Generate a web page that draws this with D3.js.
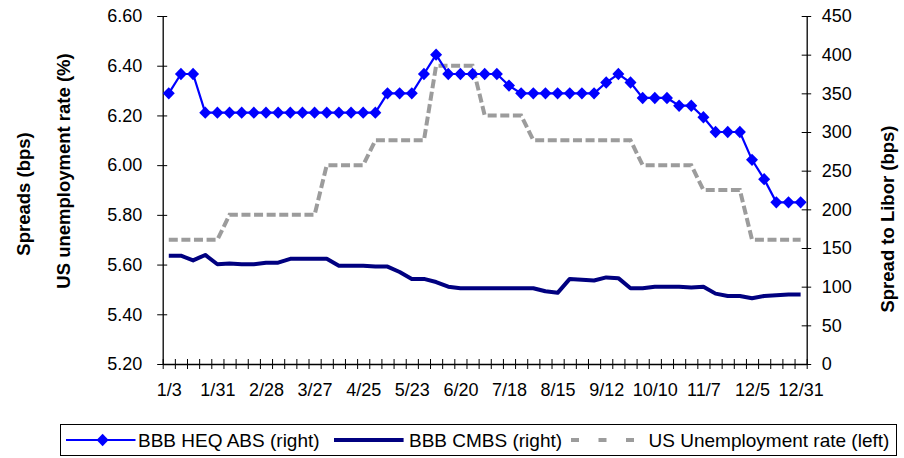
<!DOCTYPE html>
<html>
<head>
<meta charset="utf-8">
<script src="https://cdn.jsdelivr.net/npm/d3@7"></script>
<style>
  html, body { margin: 0; padding: 0; background: #fff; }
  svg { display: block; font-family: "Liberation Sans", Arial, sans-serif; }
</style>
</head>
<body>
<svg id="chart" width="904" height="458"></svg>
<script>
// ---- data ----
const dates = ["1/3","1/10","1/17","1/24","1/31","2/7","2/14","2/21","2/28","3/6","3/13","3/20","3/27",
  "4/3","4/10","4/17","4/25","5/2","5/9","5/16","5/23","5/30","6/6","6/13","6/20","6/27","7/4","7/11",
  "7/18","7/25","8/1","8/8","8/15","8/22","8/29","9/5","9/12","9/19","9/26","10/3","10/10","10/17",
  "10/24","10/31","11/7","11/14","11/21","11/28","12/5","12/12","12/19","12/26","12/31"];
const tickLabelIdx = [0,4,8,12,16,20,24,28,32,36,40,44,48,52];
const heqAbs = [350,375,375,325,325,325,325,325,325,325,325,325,325,325,325,325,325,325,350,350,350,375,400,
  375,375,375,375,375,360,350,350,350,350,350,350,350,364,375,364,344,344,344,334,334,319,300,300,300,264,239,209,209,209];
const cmbs = [140,140,134,141,129,130,129,129,131,131,136,136,136,136,127,127,127,126,126,119,110,110,106,100,98,98,
  98,98,98,98,98,94,92,110,109,108,112,111,98,98,100,100,100,99,100,91,88,88,85,88,89,90,90];
const unemployment = [5.7,5.7,5.7,5.7,5.7,5.8,5.8,5.8,5.8,5.8,5.8,5.8,5.8,6.0,6.0,6.0,6.0,6.1,6.1,6.1,6.1,6.1,
  6.4,6.4,6.4,6.4,6.2,6.2,6.2,6.2,6.1,6.1,6.1,6.1,6.1,6.1,6.1,6.1,6.1,6.0,6.0,6.0,6.0,6.0,5.9,5.9,5.9,5.9,
  5.7,5.7,5.7,5.7,5.7];
const leftTicks = [5.2,5.4,5.6,5.8,6.0,6.2,6.4,6.6];
const rightTicks = [0,50,100,150,200,250,300,350,400,450];
const seriesNames = ["BBB HEQ ABS (right)","BBB CMBS (right)","US Unemployment rate (left)"];

// ---- layout ----
const svg = d3.select("#chart");
const L = 162.7, R = 806.7, T = 16, B = 364;
const idx = d3.range(dates.length);
const xBand = d3.scaleLinear().domain([0, dates.length]).range([L, R]);
const xPt = d3.scalePoint().domain(idx).range([L, R]).padding(0.5);
const yL = d3.scaleLinear().domain([5.2, 6.6]).range([B, T]);
const yR = d3.scaleLinear().domain([0, 450]).range([B, T]);

const fontTick = "18px";
const ff = "Liberation Sans, Arial, sans-serif";

// left axis
const gL = svg.append("g").attr("transform", `translate(${L},0)`)
  .call(d3.axisLeft(yL).tickValues(leftTicks).tickFormat(d3.format(".2f")).tickSizeOuter(0).tickPadding(0));
gL.selectAll(".tick line").attr("x1", -5.5).attr("x2", 4.5).attr("stroke", "#000");
gL.selectAll(".tick text").attr("x", -20.5).attr("font-size", fontTick).attr("fill", "#000").attr("font-family", ff);
gL.select(".domain").attr("stroke", "#000").attr("stroke-width", 1.3);

// right axis
const gR = svg.append("g").attr("transform", `translate(${R},0)`)
  .call(d3.axisRight(yR).tickValues(rightTicks).tickSizeOuter(0).tickPadding(0));
gR.selectAll(".tick line").attr("x1", -5).attr("x2", 4.5).attr("stroke", "#000");
gR.selectAll(".tick text").attr("x", 15).attr("font-size", fontTick).attr("fill", "#000").attr("font-family", ff);
gR.select(".domain").attr("stroke", "#000").attr("stroke-width", 1.3);

// bottom axis: tick marks between categories
const gB = svg.append("g").attr("transform", `translate(0,${B})`)
  .call(d3.axisBottom(xBand).tickValues(d3.range(0, dates.length + 1)).tickFormat("").tickSizeOuter(0));
gB.selectAll(".tick line").attr("y1", -5).attr("y2", 5).attr("stroke", "#000");
gB.select(".domain").attr("stroke", "#000").attr("stroke-width", 1.3);

// bottom labels
const gBL = svg.append("g").attr("transform", `translate(0,${B})`)
  .call(d3.axisBottom(xPt).tickValues(tickLabelIdx).tickFormat(i => dates[i]).tickSize(0).tickPadding(19));
gBL.select(".domain").remove();
gBL.selectAll(".tick text").attr("font-size", fontTick).attr("fill", "#000").attr("font-family", ff);

// axis titles
svg.append("text").attr("transform", "translate(29.5,194) rotate(-90)").attr("text-anchor", "middle")
  .attr("font-weight", "bold").attr("font-size", "18.5px").text("Spreads (bps)");
svg.append("text").attr("transform", "translate(69.5,171) rotate(-90)").attr("text-anchor", "middle")
  .attr("font-weight", "bold").attr("font-size", "18.5px").text("US unemployment rate (%)");
svg.append("text").attr("transform", "translate(894,219) rotate(-90)").attr("text-anchor", "middle")
  .attr("font-weight", "bold").attr("font-size", "18.5px").text("Spread to Libor (bps)");

// series
const lineL = d3.line().x((d, i) => xPt(i)).y(d => yL(d));
const lineR = d3.line().x((d, i) => xPt(i)).y(d => yR(d));

svg.append("path").datum(unemployment).attr("d", lineL).attr("fill", "none")
  .attr("stroke", "#9c9c9c").attr("stroke-width", 4).attr("stroke-dasharray", "9,3.6");
svg.append("path").datum(cmbs).attr("d", lineR).attr("fill", "none")
  .attr("stroke", "#000080").attr("stroke-width", 4).attr("stroke-linejoin", "round");
svg.append("path").datum(heqAbs).attr("d", lineR).attr("fill", "none")
  .attr("stroke", "#0000ff").attr("stroke-width", 2.2);
const diamond = "M0,-6.2L6,0L0,6.2L-6,0Z";
svg.append("g").selectAll("path").data(heqAbs).join("path")
  .attr("d", diamond).attr("fill", "#0000ff")
  .attr("transform", (d, i) => `translate(${xPt(i)},${yR(d)})`);

// legend
const lg = svg.append("g");
lg.append("rect").attr("x", 60.5).attr("y", 424.5).attr("width", 836).attr("height", 31)
  .attr("fill", "#fff").attr("stroke", "#000").attr("stroke-width", 1);
const ly = 440;
lg.append("line").attr("x1", 66).attr("x2", 135.5).attr("y1", ly).attr("y2", ly)
  .attr("stroke", "#0000ff").attr("stroke-width", 2.2);
lg.append("path").attr("d", diamond).attr("fill", "#0000ff").attr("transform", `translate(102.6,${ly})`);
lg.append("line").attr("x1", 334).attr("x2", 403.6).attr("y1", ly).attr("y2", ly)
  .attr("stroke", "#000080").attr("stroke-width", 4);
lg.append("line").attr("x1", 571).attr("x2", 634).attr("y1", ly).attr("y2", ly)
  .attr("stroke", "#9c9c9c").attr("stroke-width", 4).attr("stroke-dasharray", "8,19.5");
const lx = [138, 409, 648.6];
lg.selectAll("text.lt").data(seriesNames).join("text").attr("class", "lt")
  .attr("x", (d, i) => lx[i]).attr("y", ly + 6.8).attr("font-size", "19px").attr("fill", "#000")
  .attr("font-family", ff).text(d => d);
</script>
</body>
</html>
